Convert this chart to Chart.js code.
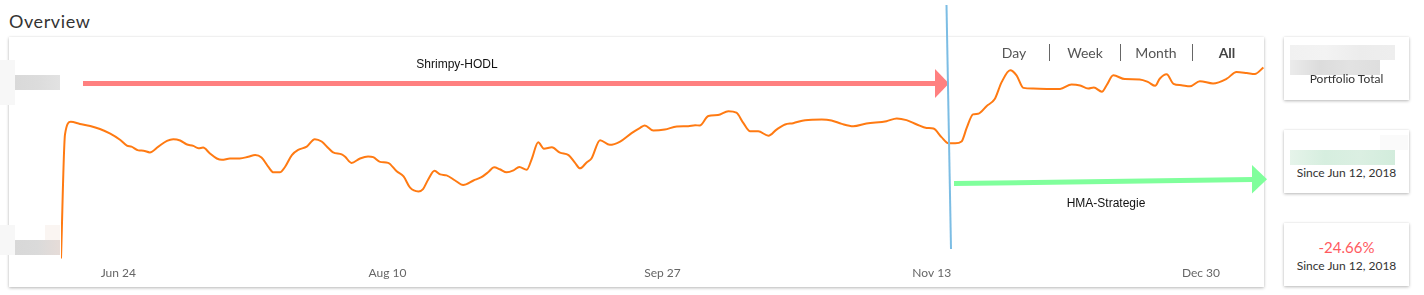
<!DOCTYPE html>
<html lang="en">
<head>
  <meta charset="UTF-8">
  <title>Overview</title>
  <script src="https://cdn.jsdelivr.net/npm/chart.js"></script>
  <style>
    body { margin: 0; background: #fff; font-family: Lato, sans-serif; }
    #page { position: relative; width: 1424px; height: 295px; overflow: hidden; }
    .card { position: absolute; background: #fff; box-shadow: 0 1px 3px rgba(0,0,0,0.28), 0 0 1px rgba(0,0,0,0.08); }
    .blk { position: absolute; }
    .abs { position: absolute; white-space: nowrap; }
    #title { left: 9px; top: 10px; font-size: 18px; line-height: 22px; color: #333; letter-spacing: 0.6px; }
    .btn { top: 45px; font-size: 14px; line-height: 16px; color: #555; transform: translateX(-50%); }
    .sep { position: absolute; top: 44px; width: 1px; height: 17px; background: #666; }
    .side { width: 125px; height: 63px; left: 1284px; }
    .sub { font-size: 12px; color: #333; left: 0; width: 125px; text-align: center; }
  </style>
</head>
<body>
<div id="page">
  <div id="title" class="abs">Overview</div>

  <div class="card" style="left:9px; top:37px; width:1255px; height:250px;">
    <div style="position:absolute; left:0; top:0; width:1255px; height:250px;">
      <canvas id="myChart"></canvas>
    </div>
  </div>

  <div class="abs btn" style="left:1014px;">Day</div>
  <div class="sep" style="left:1049px;"></div>
  <div class="abs btn" style="left:1085px;">Week</div>
  <div class="sep" style="left:1120px;"></div>
  <div class="abs btn" style="left:1156px;">Month</div>
  <div class="sep" style="left:1192px;"></div>
  <div class="abs btn" style="left:1227px; font-weight:bold; color:#444;">All</div>

  <!-- blurred axis labels -->
  <div class="blk" style="left:0; top:60px; width:15px; height:45px; background:#f7f7f7;"></div>
  <div class="blk" style="left:15px; top:75px; width:45px; height:15px; background:linear-gradient(90deg,#d9d9d9,#dcdcdc,#e2e2e2);"></div>
  <div class="blk" style="left:0; top:225px; width:15px; height:30px; background:#f7f7f7;"></div>
  <div class="blk" style="left:45px; top:225px; width:15px; height:15px; background:#faf5f2;"></div>
  <div class="blk" style="left:15px; top:240px; width:45px; height:15px; background:linear-gradient(90deg,#d8d8d8,#dadada,#e6dcd8);"></div>

  <!-- side cards -->
  <div class="card side" style="top:37px;">
    <div class="blk" style="left:6px; top:8px; width:105px; height:15px; background:linear-gradient(90deg,#f1f1f1,#f3f3f3,#ececec,#eeeeee);"></div>
    <div class="blk" style="left:6px; top:23px; width:90px; height:15px; background:linear-gradient(90deg,#ebebeb,#dcdcdc,#e2e2e2,#dedede);"></div>
    <div class="abs sub" style="top:34px;">Portfolio Total</div>
  </div>
  <div class="card side" style="top:130px;">
    <div class="blk" style="left:96px; top:5px; width:28px; height:15px; background:#fafafa;"></div>
    <div class="blk" style="left:6px; top:20px; width:105px; height:15px; background:linear-gradient(90deg,#e6f4ea,#d6eedf,#dbefe2,#d2ecdc);"></div>
    <div class="abs sub" style="top:35px;">Since Jun 12, 2018</div>
  </div>
  <div class="card side" style="top:223px;">
    <div class="abs sub" style="top:15px; font-size:15px; color:#ff5a5f;">-24.66%</div>
    <div class="abs sub" style="top:35px;">Since Jun 12, 2018</div>
  </div>

  <svg class="abs" style="left:0; top:0; pointer-events:none;" width="1424" height="295">
    <rect x="83" y="81" width="853" height="5" fill="#ff8080"/>
    <polygon points="935,69 949,83.5 935,98" fill="#ff8080"/>
    <polygon points="954,181 1253,177 1253,182 954,186" fill="#80ff9c"/>
    <polygon points="1252,165 1267,179.3 1252,193.5" fill="#80ff9c"/>
    <line x1="946.5" y1="5" x2="951" y2="249" stroke="#7cbde4" stroke-width="2"/>
    <text x="457" y="68" text-anchor="middle" font-family="Liberation Sans, Arial" font-size="12" fill="#111">Shrimpy-HODL</text>
    <text x="1106" y="207" text-anchor="middle" font-family="Liberation Sans, Arial" font-size="12" fill="#111">HMA-Strategie</text>
  </svg>
</div>

<script>
  // days since Jun 12, 2018
  const days = [
    2.0, 2.7, 3.7, 5.3, 7.1, 8.8, 10.6, 12.3, 13.5, 14.3, 15.5, 16.4, 17.5, 19.0, 20.5, 21.6, 22.8, 23.9,
    25.1, 26.0, 26.8, 28.0, 29.2, 30.1, 31.5, 33.2, 34.7, 35.9, 37.0, 38.2, 39.1, 40.2, 41.1, 42.3, 43.4,
    44.9, 46.3, 47.5, 48.7, 49.5, 51.0, 51.6, 52.7, 54.2, 55.6, 56.5, 57.7, 59.1, 60.6, 61.8, 62.9, 64.4,
    65.2, 66.1, 67.2, 68.2, 69.3, 70.8, 72.2, 74.0, 75.4, 76.6, 77.6, 78.6, 79.8, 81.0, 82.0, 83.3, 84.2,
    85.3, 86.3, 87.7, 89.1, 90.6, 91.7, 92.6, 93.8, 94.6, 96.1, 97.8, 99.6, 101.6, 103.1, 103.9, 105.4,
    107.4, 109.5, 111.5, 112.7, 113.5, 115.0, 116.7, 118.5, 119.9, 121.1, 122.3, 123.7, 125.5, 126.9,
    128.4, 129.8, 131.9, 134.8, 136.5, 138.3, 140.3, 142.6, 146.1, 147.9, 149.6, 151.4, 153.1, 154.3,
    155.7, 156.9, 158.1, 159.2, 160.1, 161.2, 162.1, 163.6, 165.0, 166.2, 167.7, 168.8, 170.0, 171.7,
    174.1, 176.4, 178.4, 179.9, 181.3, 182.3, 183.7, 184.5, 185.7, 187.7, 190.3, 191.8, 193.0, 193.8,
    195.0, 196.2, 197.6, 199.1, 200.8, 203.1, 205.5, 207.2, 209.0, 210.4, 211.9
  ];
  const values = [
    1, 123, 135.3, 133.3, 131.3, 128.3, 123.7, 117.7, 112, 111, 107.3, 107, 105.3, 111, 116.7, 118.3, 117, 113.3,
    111.7, 109.3, 110, 104.3, 99.3, 98, 99.3, 99.3, 101, 102.7, 100.3, 91, 85.7, 85.7, 91, 102.7, 107.7,
    111, 118.3, 116, 109.3, 105.3, 103.3, 101, 95, 99.3, 101.3, 100.7, 96, 95, 86.7, 81.7, 71, 67,
    69.3, 78.7, 87.3, 83.7, 82.7, 77.7, 73.3, 77.7, 81, 86, 90.7, 88.7, 85.7, 87.7, 91, 88.3, 99.3,
    115.3, 109, 110.3, 105, 102.7, 95.3, 89.7, 95.7, 99.3, 117.3, 112.7, 116, 124.3, 129.5, 131.8, 126.7,
    127.7, 130.7, 131, 132, 131.7, 141, 142, 145.7, 144.3, 134.3, 126, 126, 121.7, 127.7,
    132.7, 134, 137, 137.7, 136.7, 133.3, 131, 133.7, 136, 138.7, 137, 132.7, 129.3, 128.7,
    120.3, 114.3, 114.3, 116, 129.3, 142.7, 143.3, 151, 157.7, 174.3, 186, 181, 168.7, 168,
    167.7, 167.7, 172, 171, 168, 169, 165, 171, 181, 177.3, 177, 174.3, 170.7, 177.7,
    182, 172.7, 171.3, 170.3, 175.3, 173, 177.7, 184.3, 183.3, 182.3, 188.7
  ];
  const tickDays = [12, 59, 107, 154, 201];
  const tickLabels = ['Jun 24', 'Aug 10', 'Sep 27', 'Nov 13', 'Dec 30'];

  Chart.defaults.font.family = 'Lato';

  const ctx = document.getElementById('myChart').getContext('2d');
  new Chart(ctx, {
    type: 'line',
    data: {
      datasets: [{
        label: 'Portfolio',
        data: days.map((d, i) => ({ x: d, y: values[i] })),
        borderColor: '#ff7a12',
        borderWidth: 2,
        pointRadius: 0,
        fill: false,
        cubicInterpolationMode: 'monotone'
      }]
    },
    options: {
      responsive: true,
      maintainAspectRatio: false,
      animation: false,
      layout: { padding: { left: 52, right: 0, top: 19, bottom: 1 } },
      plugins: { legend: { display: false }, tooltip: { enabled: false } },
      scales: {
        x: {
          type: 'linear',
          min: 2,
          max: 212,
          grid: { display: false, drawTicks: false },
          border: { display: false },
          afterBuildTicks: s => { s.ticks = tickDays.map(v => ({ value: v })); },
          ticks: {
            autoSkip: false,
            maxRotation: 0,
            padding: 6,
            color: '#666',
            font: { size: 12 },
            callback: (v, i) => tickLabels[i]
          }
        },
        y: { display: false, min: 0, max: 200 }
      }
    }
  });
</script>
</body>
</html>
